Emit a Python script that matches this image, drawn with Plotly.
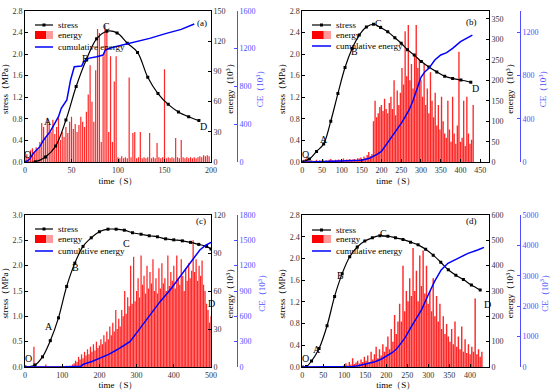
import plotly.graph_objects as go
import numpy as np

# ---------------- data ----------------
# panel (a)
a_stress_t = [0, 11, 22, 33, 44, 55, 66, 77, 88, 99, 110, 121, 132, 143, 154, 165, 176, 187]
a_stress = [0, 0.01, 0.1, 0.3, 0.78, 1.4, 1.9, 2.28, 2.42, 2.39, 2.2, 2.03, 1.57, 1.27, 1.07, 0.93, 0.84, 0.77]
a_ce_t = [0, 5, 9, 16, 20, 27, 32, 36, 39, 45, 47, 49, 53, 56, 61, 63, 68, 77, 84, 86, 88, 97, 116, 134, 152, 168, 182]
a_ce = [0, 32, 95, 165, 236, 324, 412, 482, 570, 658, 764, 869, 1009, 1009, 1016, 1062, 1097, 1114, 1132, 1178,
        1192, 1220, 1262, 1308, 1361, 1403, 1460]
a_energy_step = 2
a_energy = [6, 8, 5, 12, 14, 10, 15, 13,
            20, 39, 35, 25, 44, 38, 30, 42, 28, 35, 44, 22,
            30, 25, 35, 29, 40, 45, 33, 38, 30, 37, 45, 40, 35,
            50, 67, 96, 60, 40, 91, 132,
            128, 20, 105, 136, 131, 30, 105, 20, 80, 105,
            5, 4, 6, 4, 5, 4, 84, 5, 29, 30, 4, 5, 30, 4, 5, 4, 5, 29, 4, 5,
            4, 19, 5, 4, 5, 92, 4, 5, 4, 5, 4, 24, 5, 4, 22, 5, 4, 5, 4, 5,
            4, 5, 4, 5, 6, 5, 7, 6, 7, 6]

# panel (b)
b_stress_t = [0, 18, 36, 54, 72, 90, 108, 126, 144, 162, 180, 198, 216, 234, 250, 266, 283, 301, 320, 340, 360, 380, 401, 426]
b_stress = [0.01, 0.06, 0.2, 0.34, 0.76, 1.27, 1.75, 2.1, 2.35, 2.5, 2.55, 2.49, 2.41, 2.3, 2.2, 2.08, 1.98, 1.86,
            1.76, 1.67, 1.59, 1.55, 1.52, 1.48]
b_ce_t = [0, 50, 100, 150, 170, 180, 190, 200, 210, 220, 235, 250, 260, 270, 280, 290, 300, 310, 320, 335, 350, 365, 380, 400, 415, 430]
b_ce = [0, 5, 10, 20, 37, 55, 75, 100, 150, 206, 280, 360, 420, 483, 570, 668, 785, 837, 868, 945, 991, 1012, 1052,
        1114, 1145, 1175]
b_energy_step = 4
b_energy = [3, 6, 8, 15,
            4, 3, 5, 2, 4, 6, 3, 5, 4, 7, 3, 5, 4, 6, 8, 5, 4, 6, 5, 7, 4, 6, 9, 5, 7, 6, 8, 5, 7,
            8, 6, 10, 9, 12, 8, 14, 10, 18, 25, 15, 20,
            100, 150, 110, 120, 135,
            140, 125, 155, 130, 120, 145, 160,
            130, 200, 115, 175, 140,
            170, 230, 190, 320, 210, 335, 200, 240, 180, 260, 335, 230, 250, 200,
            160, 240, 140, 180, 120, 220, 150,
            110, 170, 90, 140, 80, 160, 100, 70,
            60, 150, 80, 50, 160, 70, 45, 90,
            270, 50, 60, 150, 40, 160, 70, 45, 55, 140]

# panel (c)
c_stress_t = [0, 27, 47, 68, 90, 112, 134, 156, 178, 200, 223, 245, 267, 289, 312, 334, 356, 378, 400, 423, 445, 467, 488, 500]
c_stress = [0, 0.04, 0.2, 0.52, 0.97, 1.59, 2.05, 2.38, 2.55, 2.67, 2.72, 2.72, 2.70, 2.65, 2.62, 2.59, 2.57, 2.53,
            2.51, 2.49, 2.46, 2.42, 2.38, 2.33]
c_ce_t = [0, 100, 150, 157, 180, 202, 225, 246, 265, 282, 296, 309, 336, 363, 390, 417, 444, 470, 485, 500]
c_ce = [0, 0, 10, 32, 65, 103, 150, 201, 250, 300, 380, 458, 616, 774, 912, 1070, 1228, 1386, 1440, 1477]
c_energy_step = 4
c_energy = [0.5, 0.5, 0.5, 0.5, 0.5, 0.5, 16, 1, 0.5, 0.5, 0.5, 0.5, 0.5, 0.5, 2, 0.5, 0.5, 0.5, 0.5, 0.5, 0.5,
            0.5, 0.5, 0.5, 0.5, 0.5, 0.5, 0.5, 1, 0.5, 1, 1, 2,
            3, 5, 4, 8, 6, 10, 7, 12, 9, 14, 10, 16, 12, 18, 13, 20, 15,
            17, 22, 18, 25, 20, 28, 22, 32, 25, 35, 28, 45, 30,
            38, 32, 45, 40, 60, 42, 55, 48, 80, 50, 87, 52,
            60, 70, 55, 88, 65, 72, 58, 80, 62, 75, 66, 85, 60,
            70, 58, 78, 62, 82, 66, 70, 60, 88, 64, 75, 68, 80,
            62, 88, 70, 65, 85, 72, 60, 78, 68, 82, 70, 76,
            100, 75, 85, 68, 80, 72, 84, 65, 60, 50, 45, 35, 40]

# panel (d)
d_stress_t = [0, 10, 22, 40, 59, 77, 95, 113, 131, 149, 167, 185, 204, 222, 240, 258, 276, 294, 312, 330, 348, 366, 384, 403, 424]
d_stress = [0, 0.01, 0.11, 0.34, 0.76, 1.3, 1.72, 2.03, 2.21, 2.32, 2.38, 2.42, 2.41, 2.38, 2.35, 2.3, 2.25, 2.17,
            2.06, 1.93, 1.79, 1.69, 1.61, 1.51, 1.42]
d_ce_t = [0, 100, 120, 133, 157, 173, 189, 204, 214, 224, 234, 244, 260, 284, 300, 315, 331, 347, 371, 395, 418, 433]
d_ce = [0, 5, 20, 44, 120, 175, 263, 373, 470, 581, 760, 943, 1327, 1875, 2368, 2807, 3191, 3410, 3575, 3739, 3849, 3936]
d_energy_step = 4
d_energy = [1, 1, 2, 1, 1, 2, 1, 1, 1, 2, 1, 1, 3, 1, 1, 2, 1, 1, 2, 1, 1, 2, 1, 2, 3,
            8, 15, 6, 20, 10, 35, 12, 18, 25, 14, 30, 20, 40,
            25, 45, 20, 60, 30, 50, 80, 35, 70, 45, 90, 60,
            80, 120, 70, 150, 100, 205, 130, 180,
            250, 180, 400, 220, 300, 260, 350,
            280, 470, 300, 380, 260, 440, 320, 460, 290, 400, 250,
            300, 220, 350, 200, 280,
            180, 250, 150, 200, 130, 170, 120,
            100, 150, 90, 180, 80, 120, 70, 160, 60, 110, 55, 90, 50,
            80, 60, 270, 50, 70, 40, 60]

labels_letters = ["O", "A", "B", "C", "D"]
a_letters = [(3, 0.15), (25, 0.75), (65, 1.92), (88, 2.5), (192, 0.67)]
b_letters = [(7, 0.15), (56, 0.42), (133, 2.04), (192, 2.57), (439, 1.37)]
c_letters = [(9, 0.17), (64, 0.79), (137, 1.96), (274, 2.44), (500, 1.26)]
d_letters = [(8, 0.16), (35, 0.33), (92, 1.69), (193, 2.46), (442, 1.15)]

legend_names = ["stress", "energy", "cumulative energy"]

panels = [
    dict(name="(a)", st=a_stress_t, s=a_stress, ct=a_ce_t, c=a_ce, e=a_energy, step=a_energy_step, bw=1.3,
         letters=a_letters, xr=[0, 200], xd=50, sr=[0, 2.8], sd=0.4, er=[0, 150], ed=30, cr=[0, 1600], cd=400),
    dict(name="(b)", st=b_stress_t, s=b_stress, ct=b_ce_t, c=b_ce, e=b_energy, step=b_energy_step, bw=3.4,
         letters=b_letters, xr=[0, 472], xd=50, sr=[0, 2.8], sd=0.4, er=[0, 370], ed=50, cr=[0, 1400], cd=400),
    dict(name="(c)", st=c_stress_t, s=c_stress, ct=c_ce_t, c=c_ce, e=c_energy, step=c_energy_step, bw=3.4,
         letters=c_letters, xr=[0, 500], xd=100, sr=[0, 3.0], sd=0.5, er=[0, 120], ed=30, cr=[0, 1800], cd=300),
    dict(name="(d)", st=d_stress_t, s=d_stress, ct=d_ce_t, c=d_ce, e=d_energy, step=d_energy_step, bw=3.4,
         letters=d_letters, xr=[0, 445], xd=50, sr=[0, 2.8], sd=0.4, er=[0, 600], ed=100, cr=[0, 5000], cd=1000),
]

# ---------------- layout geometry (pixels) ----------------
W, H = 550, 390
cols = [(25, 211, 237), (302.3, 489, 520)]
rows = [(10.7, 162.3), (215, 367)]
# legend: swatch x0, x1, text x, y of the three rows
legend_geo = [(35, 53, 56, 25, 35, 47), (312, 331, 334, 25, 35, 46),
              (35, 53, 56, 229, 239, 251), (312, 331, 334, 230, 239, 251)]
label_pos = [(202, 16), (479, 15), (201, 221), (479, 221)]

FONT = "Liberation Serif, Times New Roman, serif"
CE_COL = "#4f4fff"


def px(x):
    return x / W


def py(y):
    return 1 - y / H


fig = go.Figure()
layout = dict(width=W, height=H, margin=dict(l=0, r=0, t=0, b=0), paper_bgcolor="white",
              plot_bgcolor="rgba(0,0,0,0)", font=dict(family=FONT, size=8, color="black"),
              showlegend=False, annotations=[], shapes=[])

for k, p in enumerate(panels):
    col = cols[k % 2]
    row = rows[k // 2]
    xd = [px(col[0]), px(col[1])]
    yd = [py(row[1]), py(row[0])]
    xn = "" if k == 0 else str(k + 1)
    ye, ys, yc = 3 * k + 1, 3 * k + 2, 3 * k + 3
    yen = "" if ye == 1 else str(ye)

    ax_common = dict(showline=True, linecolor="black", linewidth=1, ticks="inside", ticklen=3,
                     tickcolor="black", showgrid=False, zeroline=False, automargin=False,
                     tickfont=dict(family=FONT, size=8, color="#333333"))

    layout["xaxis" + xn] = dict(domain=xd, anchor="y" + yen, range=p["xr"], dtick=p["xd"],
                                mirror=True, title=dict(text="time（S）", font=dict(family=FONT, size=9), standoff=3),
                                **ax_common)
    layout["yaxis" + yen] = dict(domain=yd, anchor="x" + xn, side="right", range=p["er"], dtick=p["ed"],
                                 title=dict(text="energy（10<sup>3</sup>）", font=dict(family=FONT, size=9), standoff=2),
                                 **ax_common)
    layout["yaxis%d" % ys] = dict(overlaying="y" + yen, anchor="x" + xn, side="left", range=p["sr"], dtick=p["sd"],
                                  tickformat=".1f",
                                  title=dict(text="stress（MPa）", font=dict(family=FONT, size=9), standoff=2),
                                  **ax_common)
    ce_common = dict(ax_common)
    ce_common.update(linecolor=CE_COL, tickcolor=CE_COL, tickfont=dict(family=FONT, size=8, color=CE_COL))
    layout["yaxis%d" % yc] = dict(overlaying="y" + yen, anchor="free", position=px(col[2]), side="right",
                                  range=p["cr"], dtick=p["cd"],
                                  title=dict(text="CE（10<sup>3</sup>）", font=dict(family=FONT, size=9, color=CE_COL),
                                             standoff=2),
                                  **ce_common)

    et = np.arange(len(p["e"])) * p["step"]
    fig.add_trace(go.Bar(x=et, y=p["e"], width=p["bw"], name="energy",
                         marker=dict(color="rgba(255,0,0,0.85)", line=dict(width=0)),
                         xaxis="x" + xn, yaxis="y" + yen))
    fig.add_trace(go.Scatter(x=p["st"], y=p["s"], mode="lines+markers", name="stress",
                             line=dict(color="black", width=1.2, shape="spline"),
                             marker=dict(symbol="square", size=3, color="black"),
                             xaxis="x" + xn, yaxis="y%d" % ys))
    fig.add_trace(go.Scatter(x=p["ct"], y=p["c"], mode="lines", name="cumulative energy",
                             line=dict(color="#0000ff", width=1.5),
                             xaxis="x" + xn, yaxis="y%d" % yc))

    # hand-drawn legend (paper coordinates)
    x0, x1, xt, y1, y2, y3 = legend_geo[k]
    layout["shapes"].append(dict(type="line", xref="paper", yref="paper", x0=px(x0), x1=px(x1), y0=py(y1), y1=py(y1),
                                 line=dict(color="black", width=1.2)))
    xm = (x0 + x1) / 2
    layout["shapes"].append(dict(type="rect", xref="paper", yref="paper", x0=px(xm - 1.5), x1=px(xm + 1.5),
                                 y0=py(y1 - 1.5), y1=py(y1 + 1.5), fillcolor="black", line=dict(width=0)))
    xs = x0 + (x1 - x0) * 0.62
    layout["shapes"].append(dict(type="rect", xref="paper", yref="paper", x0=px(x0), x1=px(xs),
                                 y0=py(y2 + 4), y1=py(y2 - 4), fillcolor="#ff0000", line=dict(width=0)))
    layout["shapes"].append(dict(type="rect", xref="paper", yref="paper", x0=px(xs), x1=px(x1),
                                 y0=py(y2 + 4), y1=py(y2 - 4), fillcolor="#ff9a9a", line=dict(width=0)))
    layout["shapes"].append(dict(type="line", xref="paper", yref="paper", x0=px(x0), x1=px(x1), y0=py(y3), y1=py(y3),
                                 line=dict(color="#0000ff", width=1.5)))
    for nm, yy in zip(legend_names, (y1, y2, y3)):
        layout["annotations"].append(dict(x=px(xt), y=py(yy), xref="paper", yref="paper", text=nm, showarrow=False,
                                          xanchor="left", yanchor="middle",
                                          font=dict(family=FONT, size=9, color="black")))

    for (tx, sy), lt in zip(p["letters"], labels_letters):
        layout["annotations"].append(dict(x=tx, y=sy, xref="x" + xn, yref="y%d" % ys, text=lt, showarrow=False,
                                          font=dict(family=FONT, size=10, color="black")))
    lx, ly = label_pos[k]
    layout["annotations"].append(dict(x=px(lx), y=py(ly), xref="paper", yref="paper", text=p["name"],
                                      showarrow=False, font=dict(family=FONT, size=9, color="black")))

fig.update_layout(**layout)
fig.write_html("out.html", config={"displayModeBar": False},
               post_script="document.body.style.margin='0px';document.body.style.padding='0px';")
